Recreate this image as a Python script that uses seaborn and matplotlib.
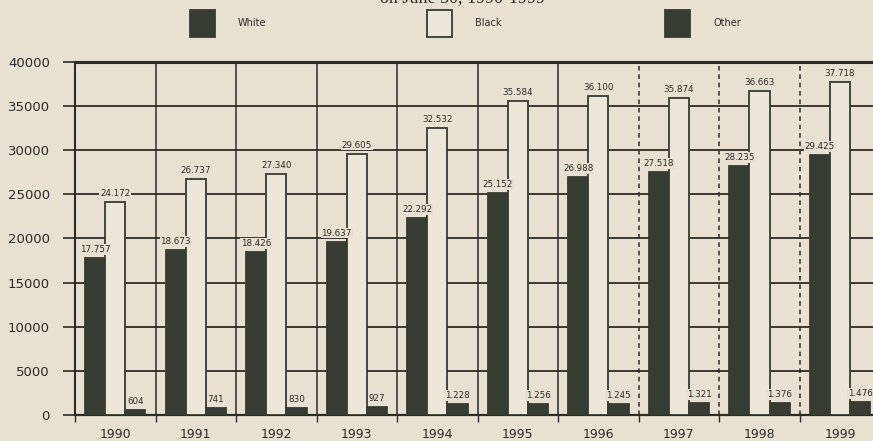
import matplotlib
matplotlib.use("Agg")
import matplotlib.pyplot as plt
import seaborn as sns
import pandas as pd
from matplotlib.patches import Rectangle

# ---- data ----
years = ["1990", "1991", "1992", "1993", "1994", "1995", "1996", "1997", "1998", "1999"]
white = [17757, 18673, 18426, 19637, 22292, 25152, 26988, 27518, 28235, 29425]
black = [24172, 26737, 27340, 29605, 32532, 35584, 36100, 35874, 36663, 37718]
other = [604, 741, 830, 927, 1228, 1256, 1245, 1321, 1376, 1476]
groups = ["White", "Black", "Other"]
yticks = [0, 5000, 10000, 15000, 20000, 25000, 30000, 35000, 40000]
title = "on June 30, 1990-1999"

BG = "#e8e1d2"
DARK = "#363c32"
LIGHT = "#ede7da"
INK = "#2b2b28"

sns.set_style("white")
plt.rcParams["font.family"] = ["DejaVu Sans"]

df = pd.DataFrame({
    "year": years * 3,
    "value": white + black + other,
    "group": [groups[0]] * len(years) + [groups[1]] * len(years) + [groups[2]] * len(years),
})

fig = plt.figure(figsize=(8.73, 4.41), dpi=100, facecolor=BG)
ax = fig.add_axes([75 / 873, 26 / 441, (873 - 75) / 873, (415 - 62) / 441])
ax.set_facecolor(BG)

sns.barplot(data=df, x="year", y="value", hue="group", hue_order=groups,
            palette=[DARK, LIGHT, DARK], saturation=1, width=0.75,
            edgecolor=DARK, linewidth=1.3, ax=ax, legend=False, zorder=3)

ax.set_xlim(-0.5, 9.41)
ax.set_ylim(yticks[0], yticks[-1])
ax.set_yticks(yticks)
ax.set_xlabel("")
ax.set_ylabel("")

# grid
for t in yticks[1:-1]:
    ax.axhline(t, color=INK, lw=1.3, zorder=1)
n = len(years)
for i in range(n - 1):
    ls = "-" if i < 6 else (0, (3, 2.5))
    ax.axvline(i + 0.5, color=INK, lw=1.1, ls=ls, zorder=1)
ax.set_xticks([i - 0.5 for i in range(n)], minor=True)

ax.spines["right"].set_visible(False)
ax.spines["top"].set_linewidth(2.2)
ax.spines["left"].set_linewidth(1.5)
ax.spines["bottom"].set_linewidth(1.6)
for s in ["top", "left", "bottom"]:
    ax.spines[s].set_color(INK)

ax.tick_params(axis="y", length=9, width=1.2, pad=9, labelsize=9.5, colors=INK, left=True)
ax.tick_params(axis="x", which="major", length=0, pad=9, labelsize=9, colors=INK)
ax.tick_params(axis="x", which="minor", length=5, width=1, colors=INK, bottom=True)

# value labels
fmt = lambda v: f"{int(v):,}".replace(",", ".")
for cont in ax.containers:
    ax.bar_label(cont, labels=[fmt(b.get_height()) for b in cont], padding=3,
                 fontsize=6.3, color=INK, zorder=4,
                 bbox=dict(facecolor=BG, edgecolor="none", pad=0.6))

# legend (manual boxes at top)
legend_x = [190, 427, 665]
colors = [DARK, LIGHT, DARK]
for lx, g, c in zip(legend_x, groups, colors):
    fig.add_artist(Rectangle((lx / 873, 1 - 37 / 441), 25 / 873, 27 / 441,
                             transform=fig.transFigure, facecolor=c,
                             edgecolor=DARK, lw=1.3))
    fig.text((lx + 48) / 873, 1 - 23 / 441, g, fontsize=7, color=INK,
             va="center", ha="left")

fig.text(462 / 873, 1 + 2 / 441, title, fontsize=13, color=INK, ha="center",
         va="center", family=["Liberation Serif", "DejaVu Serif"])

fig.savefig("out.png", dpi=100, facecolor=BG)
